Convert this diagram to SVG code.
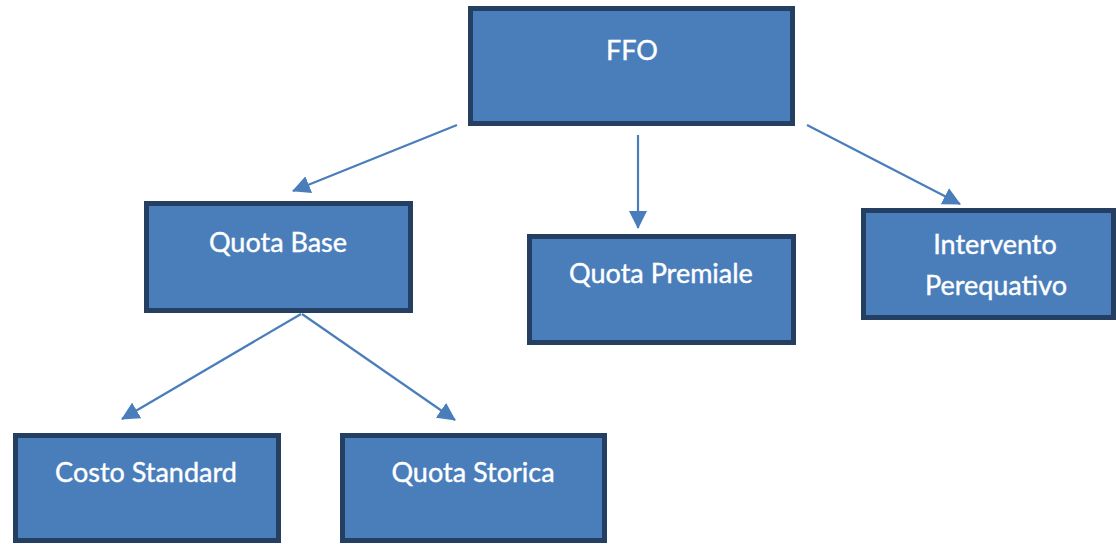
<svg xmlns="http://www.w3.org/2000/svg" width="1116" height="544" viewBox="0 0 1116 544">
  <style>
    .box { fill: #4a7ebb; stroke: #243f61; stroke-width: 5; }
    .label { font-family: Lato, "Liberation Sans", sans-serif; font-size: 27px; fill: #ffffff; stroke: #ffffff; stroke-width: 0.4; text-anchor: middle; }
    .link { stroke: #4a7ebb; stroke-width: 2.2; fill: none; marker-end: url(#head); }
  </style>
  <defs>
    <marker id="head" markerUnits="userSpaceOnUse" markerWidth="18" markerHeight="18" viewBox="0 0 18 18" refX="17" refY="9" orient="auto">
      <path d="M0,0 L18,9 L0,18 Z" fill="#4a7ebb"/>
    </marker>
  </defs>
  <rect width="1116" height="544" fill="#ffffff"/>

  <g id="connectors">
    <line class="link" x1="457" y1="125" x2="293" y2="191"/>
    <line class="link" x1="638" y1="135" x2="638" y2="228"/>
    <line class="link" x1="807" y1="125" x2="960" y2="204"/>
    <line class="link" x1="301" y1="314" x2="122" y2="419"/>
    <line class="link" x1="302" y1="314" x2="455" y2="420"/>
  </g>

  <g id="ffo">
    <rect class="box" x="470.5" y="8.5" width="322" height="115"/>
    <text class="label" x="632" y="60">FFO</text>
  </g>

  <g id="quota-base">
    <rect class="box" x="146.5" y="203.5" width="264" height="107"/>
    <text class="label" x="278" y="252">Quota Base</text>
  </g>

  <g id="quota-premiale">
    <rect class="box" x="529.5" y="236.5" width="264" height="106"/>
    <text class="label" x="661" y="283">Quota Premiale</text>
  </g>

  <g id="intervento-perequativo">
    <rect class="box" x="863.5" y="210.5" width="250" height="107"/>
    <text class="label" x="995" y="254">Intervento</text>
    <text class="label" x="996" y="295">Perequativo</text>
  </g>

  <g id="costo-standard">
    <rect class="box" x="15.5" y="435.5" width="263" height="105"/>
    <text class="label" x="146" y="482">Costo Standard</text>
  </g>

  <g id="quota-storica">
    <rect class="box" x="342.5" y="435.5" width="262" height="105"/>
    <text class="label" x="473" y="482">Quota Storica</text>
  </g>
</svg>
